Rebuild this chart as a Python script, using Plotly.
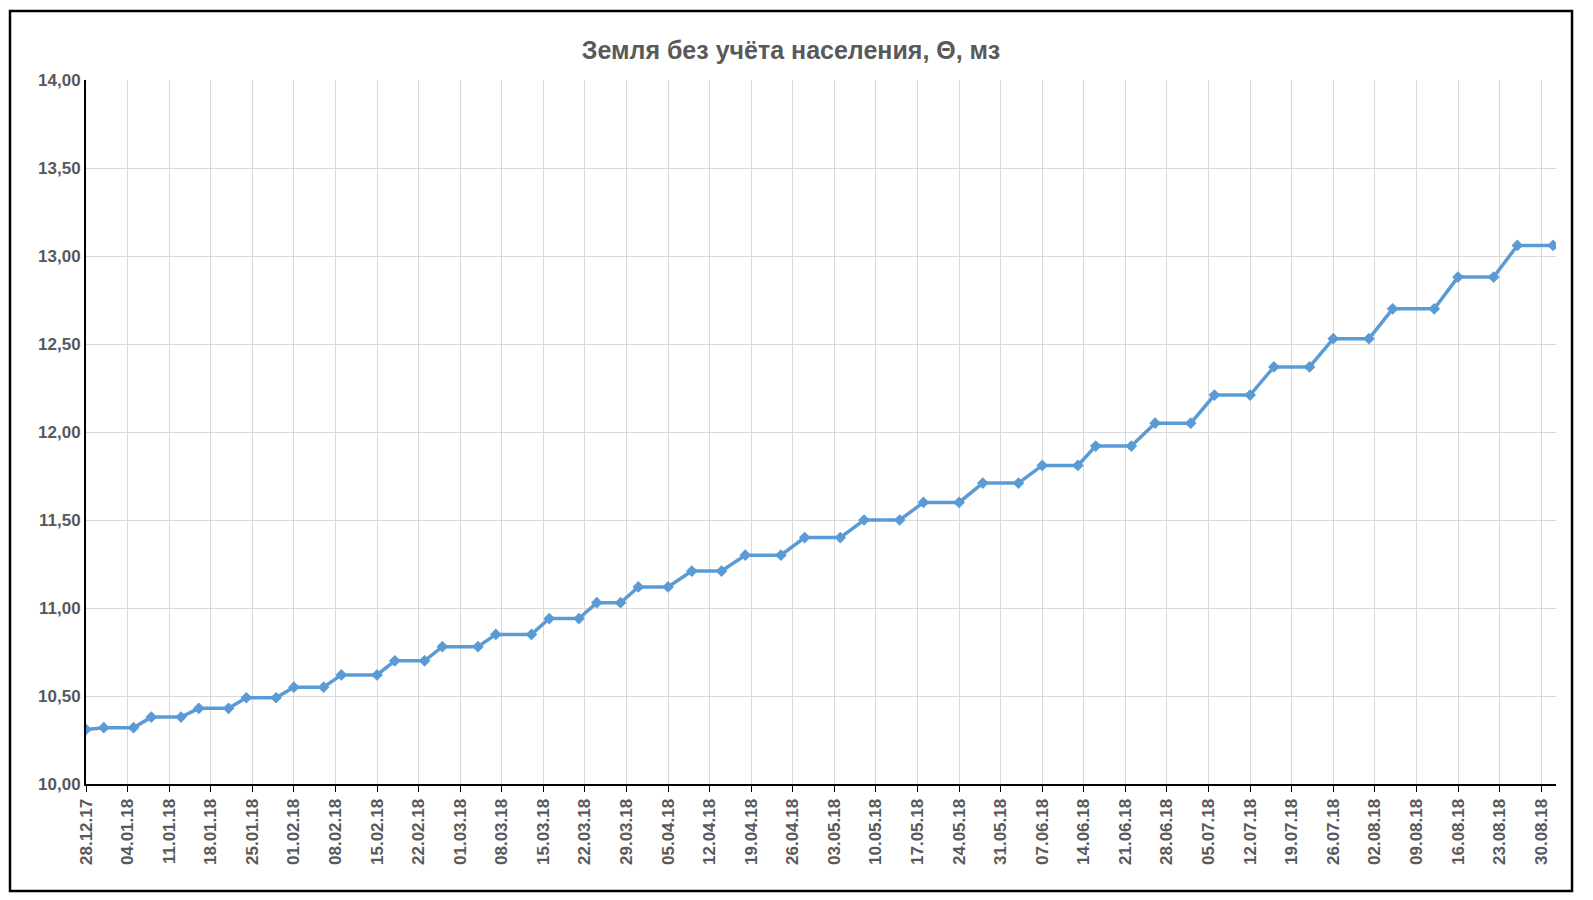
import pandas as pd
import plotly.graph_objects as go

start_date = "2017-12-28"
day_offsets = [0, 3, 8, 11, 16, 19, 24, 27, 32, 35, 40, 43, 49, 52, 57, 60, 66, 69, 75, 78, 83,
               86, 90, 93, 98, 102, 107, 111, 117, 121, 127, 131, 137, 141, 147, 151, 157,
               161, 167, 170, 176, 180, 186, 190, 196, 200, 206, 210, 216, 220, 227, 231, 237, 241, 247]
values = [10.31, 10.32, 10.32, 10.38, 10.38, 10.43, 10.43, 10.49, 10.49, 10.55, 10.55, 10.62, 10.62,
          10.70, 10.70, 10.78, 10.78, 10.85, 10.85, 10.94, 10.94, 11.03, 11.03, 11.12, 11.12,
          11.21, 11.21, 11.30, 11.30, 11.40, 11.40, 11.50, 11.50, 11.60, 11.60, 11.71, 11.71,
          11.81, 11.81, 11.92, 11.92, 12.05, 12.05, 12.21, 12.21, 12.37, 12.37, 12.53, 12.53,
          12.70, 12.70, 12.88, 12.88, 13.06, 13.06]
title = "Земля без учёта населения, Θ, мз"

base = pd.Timestamp(start_date)
dates = [base + pd.Timedelta(days=d) for d in day_offsets]
tick_dates = pd.date_range(base, periods=36, freq="7D")

gray = "#595959"
fig = go.Figure(go.Scatter(
    x=dates, y=values, mode="lines+markers",
    line=dict(color="#5B9BD5", width=3.5),
    marker=dict(symbol="diamond", size=9, color="#5B9BD5"),
))
fig.update_layout(
    width=1566, height=886, paper_bgcolor="white", plot_bgcolor="white",
    separators=", ",
    margin=dict(l=78, r=18, t=72, b=110),
    title=dict(text="<b>" + title + "</b>", x=0.5, xanchor="center", y=0.962,
               font=dict(family="Liberation Sans, Arial", size=25, color=gray)),
    showlegend=False,
    font=dict(family="Liberation Sans, Arial", color=gray),
    shapes=[dict(type="rect", xref="paper", yref="paper", x0=-0.0517, x1=1.0109, y0=-0.152, y1=1.098,
                 line=dict(color="black", width=2.5))],
)
fig.update_xaxes(
    range=[base, base + pd.Timedelta(days=247.5)],
    tickvals=list(tick_dates), ticktext=[d.strftime("%d.%m.%y") for d in tick_dates],
    tickangle=-90, tickfont=dict(size=17, color=gray, weight="bold"),
    showgrid=True, gridcolor="#D9D9D9", gridwidth=1,
    showline=True, linecolor="black", linewidth=2,
    ticks="outside", tickcolor="black", ticklen=6,
)
fig.update_yaxes(
    range=[10, 14], dtick=0.5, tickformat=".2f", tickfont=dict(size=17, color=gray, weight="bold"),
    showgrid=True, gridcolor="#D9D9D9", gridwidth=1,
    showline=True, linecolor="black", linewidth=2, mirror=False, zeroline=False,
)
fig.write_html("out.html")
